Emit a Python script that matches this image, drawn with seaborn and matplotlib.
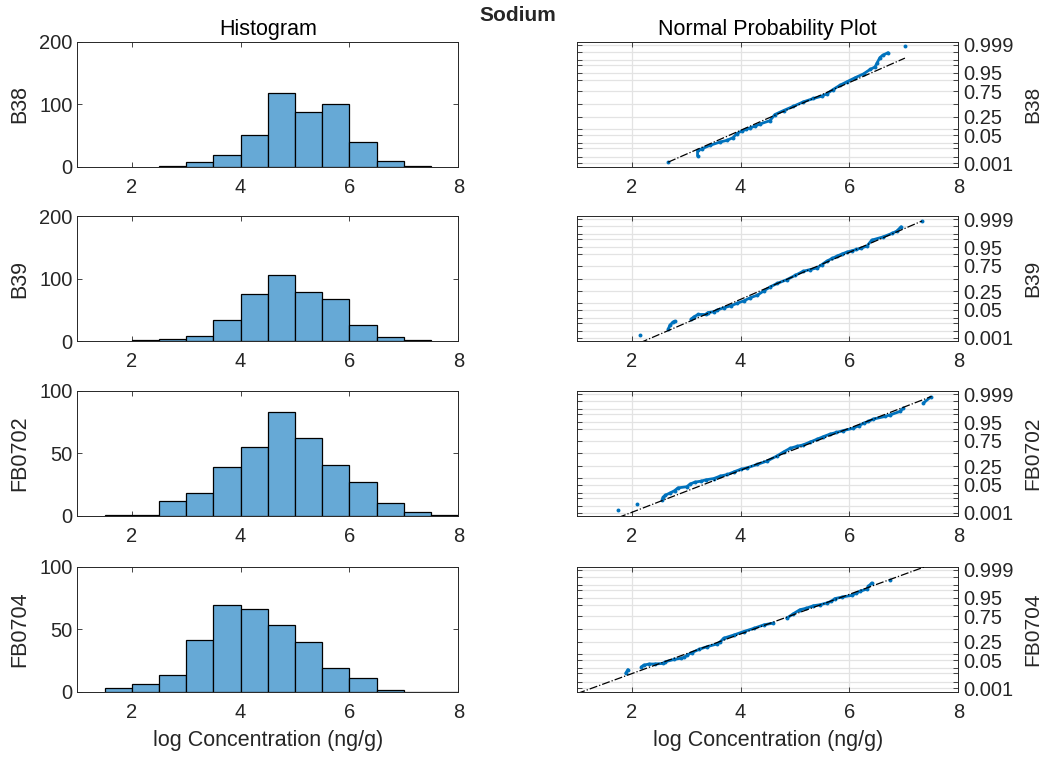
import statistics
import numpy as np
import pandas as pd
import seaborn as sns
import matplotlib.pyplot as plt

sns.set_style('white')
plt.rcParams['font.family'] = ['Liberation Sans', 'DejaVu Sans']

sites = ['B38', 'B39', 'FB0702', 'FB0704']

# histogram: left edge of first bin (width 0.5) and counts per bin
bin_start = [2.5, 2.0, 1.5, 1.5]
bin_counts = [
    [1, 7, 19, 51, 118, 87, 100, 39, 9, 1],
    [2, 4, 8, 33, 75, 105, 78, 68, 25, 7, 1],
    [1, 1, 12, 18, 39, 55, 83, 62, 41, 27, 10, 3, 1],
    [3, 6, 13, 41, 69, 66, 53, 40, 19, 11, 1, 0, 0],
]
hist_ymax = [200, 200, 100, 100]

# normal probability plot (value, normal quantile)
pp_x = [
    [2.67, 3.21, 3.21, 3.29, 3.44, 3.62, 3.75, 3.86, 3.93, 4.02, 4.10, 4.17, 4.27, 4.36, 4.54, 4.63,
     4.79, 4.97, 5.15, 5.34, 5.49, 5.58, 5.70, 5.83, 5.95, 6.10, 6.26, 6.38, 6.47, 6.51, 6.56, 6.61,
     6.71, 7.02],
    [2.15, 2.67, 2.70, 2.75, 2.79, 3.09, 3.14, 3.22, 3.36, 3.40, 3.51, 3.57, 3.69, 3.82, 3.94, 4.06,
     4.18, 4.31, 4.43, 4.55, 4.67, 4.85, 5.00, 5.15, 5.28, 5.40, 5.49, 5.58, 5.68, 5.77, 5.86, 5.95,
     6.04, 6.13, 6.22, 6.32, 6.41, 6.62, 6.78, 6.87, 6.95, 7.33],
    [1.75, 2.10, 2.56, 2.58, 2.62, 2.71, 2.79, 2.85, 3.01, 3.08, 3.16, 3.27, 3.36, 3.51, 3.63, 3.76,
     3.88, 4.00, 4.12, 4.31, 4.49, 4.67, 4.79, 4.91, 5.03, 5.15, 5.28, 5.40, 5.52, 5.64, 5.76, 5.89,
     6.07, 6.17, 6.26, 6.35, 6.44, 6.66, 6.75, 6.93, 6.99, 7.36, 7.49],
    [1.89, 1.93, 2.18, 2.22, 2.32, 2.42, 2.58, 2.62, 2.78, 2.90, 2.97, 3.02, 3.11, 3.24, 3.39, 3.57,
     3.63, 3.69, 3.88, 4.06, 4.25, 4.43, 4.60, 4.85, 4.97, 5.09, 5.21, 5.34, 5.46, 5.58, 5.67, 5.73,
     5.86, 6.04, 6.13, 6.19, 6.32, 6.35, 6.41, 6.75],
]
pp_z = [
    [-3.04, -2.71, -2.43, -2.34, -2.16, -1.99, -1.90, -1.76, -1.55, -1.41, -1.33, -1.25, -1.15, -1.04,
     -0.87, -0.55, -0.34, -0.12, 0.11, 0.29, 0.41, 0.53, 0.76, 0.99, 1.16, 1.37, 1.58, 1.81, 1.94,
     2.16, 2.43, 2.55, 2.69, 3.04],
    [-2.97, -2.66, -2.45, -2.30, -2.23, -2.13, -2.01, -1.88, -1.88, -1.78, -1.74, -1.65, -1.53, -1.43,
     -1.29, -1.17, -1.00, -0.87, -0.64, -0.43, -0.26, -0.06, 0.16, 0.38, 0.47, 0.55, 0.72, 0.90, 1.05,
     1.17, 1.28, 1.38, 1.45, 1.52, 1.60, 1.69, 2.01, 2.18, 2.36, 2.48, 2.71, 3.01],
    [-2.94, -2.62, -2.41, -2.29, -2.18, -2.06, -1.94, -1.80, -1.74, -1.59, -1.50, -1.45, -1.38, -1.31,
     -1.18, -1.10, -0.96, -0.83, -0.75, -0.57, -0.39, -0.13, 0.08, 0.27, 0.37, 0.45, 0.60, 0.74, 0.88,
     1.01, 1.10, 1.20, 1.32, 1.45, 1.58, 1.68, 1.80, 1.94, 2.02, 2.20, 2.37, 2.64, 2.95],
    [-2.32, -2.12, -1.98, -1.89, -1.83, -1.83, -1.80, -1.71, -1.59, -1.53, -1.48, -1.36, -1.23, -1.06,
     -0.92, -0.78, -0.66, -0.48, -0.31, -0.13, 0.04, 0.22, 0.31, 0.57, 0.80, 1.01, 1.09, 1.22, 1.27,
     1.36, 1.45, 1.59, 1.67, 1.76, 1.88, 1.97, 2.09, 2.23, 2.41, 2.59],
]

# fitted reference line (mean, sd) and its x range
ref_mu = [5.10, 4.886, 4.798, 4.25]
ref_sd = [0.799, 0.813, 0.908, 0.963]
ref_lo = [2.67, 2.15, 1.75, 1.0]
ref_hi = [7.02, 7.33, 7.51, 7.42]

prob_grid = [0.001, 0.003, 0.01, 0.02, 0.05, 0.10, 0.25, 0.5, 0.75, 0.90, 0.95, 0.98, 0.99, 0.997, 0.999]
prob_labels = ['0.001', '0.05', '0.25', '0.75', '0.95', '0.999']

bar_color = '#66a9d6'
dot_color = '#0072bd'
ink = '#262626'

nd = statistics.NormalDist()
grid_z = [nd.inv_cdf(p) for p in prob_grid]
grid_lab = [('%g' % p if '%g' % p in prob_labels else '') for p in prob_grid]

fig = plt.figure(figsize=(10.49, 7.58), dpi=100)
bottoms = [0.7803, 0.5501, 0.3193, 0.0877]
h = 0.1649


def style_axes(ax):
    for s in ax.spines.values():
        s.set_color(ink)
        s.set_linewidth(0.7)
    ax.tick_params(direction='in', length=3.5, width=0.6, colors=ink, labelsize=14.5,
                   top=True, right=True, bottom=True, left=True)
    ax.tick_params(axis='x', pad=8)


for i, site in enumerate(sites):
    # histogram
    ax = fig.add_axes([0.0737, bottoms[i], 0.3632, h])
    counts = bin_counts[i]
    nb = len(counts)
    lefts = bin_start[i] + 0.5 * np.arange(nb)
    hist_df = pd.DataFrame({'value': lefts + 0.25, 'count': counts})
    sns.histplot(data=hist_df, x='value', weights='count', binwidth=0.5,
                 binrange=(bin_start[i], bin_start[i] + 0.5 * nb), ax=ax, color=bar_color,
                 alpha=1, edgecolor='black', linewidth=0.9)
    ax.set_xlim(1, 8)
    ax.set_ylim(0, hist_ymax[i])
    ax.set_xticks([2, 4, 6, 8])
    ax.set_yticks([0, hist_ymax[i] / 2, hist_ymax[i]])
    ax.set_yticklabels(['%d' % v for v in [0, hist_ymax[i] / 2, hist_ymax[i]]])
    ax.set_ylabel(site, fontsize=15.5, color=ink, labelpad=6)
    ax.set_xlabel('')
    style_axes(ax)
    ax.tick_params(labelright=False, labeltop=False)
    if i == 0:
        ax.set_title('Histogram', fontsize=15.5, color='black', pad=5)
    if i == 3:
        ax.set_xlabel('log Concentration (ng/g)', fontsize=15.5, color=ink, labelpad=6)

    # normal probability plot
    bx = fig.add_axes([0.5503, bottoms[i], 0.3632, h])
    for z in grid_z:
        bx.axhline(z, color='#e3e3e3', lw=0.9, zorder=0)
    for xv in [2, 4, 6]:
        bx.axvline(xv, color='#e3e3e3', lw=0.9, zorder=0)
    xs = np.array(pp_x[i])
    zs = np.array(pp_z[i])
    # connect neighbouring points where the sample is dense
    lx, lz = [xs[0]], [zs[0]]
    for k in range(1, len(xs)):
        if abs(xs[k] - xs[k - 1]) > 0.22 or abs(zs[k] - zs[k - 1]) > 0.35:
            lx.append(np.nan)
            lz.append(np.nan)
        lx.append(xs[k])
        lz.append(zs[k])
    bx.plot(lx, lz, color=dot_color, lw=2.0, zorder=2)
    sns.scatterplot(x=xs, y=zs, ax=bx, color=dot_color, s=8, linewidth=0, zorder=3)
    rx = np.array([ref_lo[i], ref_hi[i]])
    bx.plot(rx, (rx - ref_mu[i]) / ref_sd[i], color='black', lw=0.9, ls='-.', zorder=4)
    bx.set_xlim(1, 8)
    bx.set_ylim(-3.27, 3.27)
    bx.set_xticks([2, 4, 6, 8])
    bx.set_yticks(grid_z)
    bx.set_yticklabels(grid_lab)
    style_axes(bx)
    bx.tick_params(labelleft=False, labelright=True, labeltop=False)
    bx.yaxis.set_label_position('right')
    bx.set_ylabel(site, fontsize=15, color=ink, labelpad=7)
    bx.set_xlabel('')
    if i == 0:
        bx.set_title('Normal Probability Plot', fontsize=15.5, color='black', pad=5)
    if i == 3:
        bx.set_xlabel('log Concentration (ng/g)', fontsize=15.5, color=ink, labelpad=6)

fig.text(0.494, 0.979, 'Sodium', ha='center', va='center', fontsize=15, fontweight='bold')

fig.savefig('out.png', dpi=100)
